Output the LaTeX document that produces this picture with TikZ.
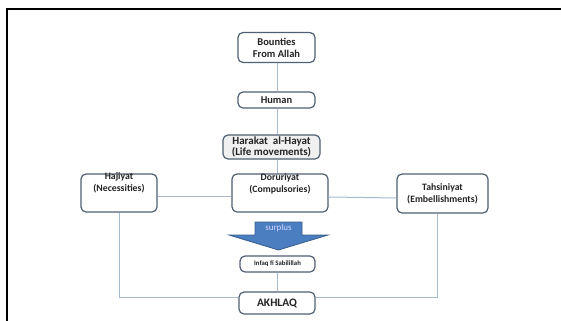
\documentclass[tikz,border=0pt]{standalone}
\usepackage{fontspec}
\setmainfont{Carlito}
\definecolor{boxline}{RGB}{80,96,114}
\definecolor{conn}{RGB}{165,185,208}
\definecolor{arrowfill}{RGB}{74,126,192}
\definecolor{arrowline}{RGB}{56,93,138}
\definecolor{txtc}{RGB}{35,35,35}
\tikzset{
  box/.style={draw=boxline, line width=1.2bp, rounded corners=5bp, fill=white, inner sep=0pt},
  txt/.style={font=\bfseries\fontsize{10.5}{11.5}\selectfont, text=txtc, align=center, inner sep=0pt},
  conline/.style={draw=conn, line width=1bp}
}
\begin{document}
\begin{tikzpicture}[x=1bp,y=-1bp]
\useasboundingbox (0,0) rectangle (561,320);
% frame
\draw[line width=2bp] (7,321) -- (7,9) -- (562,9);
% boxes
\node[box, minimum width=77bp, minimum height=30bp] (bounties) at (276.5,47.5) {};
\node[box, minimum width=77bp, minimum height=16bp] (human) at (276.5,100) {};
\node[box, minimum width=97bp, minimum height=24bp, fill=gray!12] (harakat) at (271.5,147) {};
\node[box, minimum width=96bp, minimum height=38bp] (doruriyat) at (280,193) {};
\node[box, minimum width=76bp, minimum height=38bp] (hajiyat) at (119,193) {};
\node[box, minimum width=91bp, minimum height=39bp] (tahsiniyat) at (442.5,193.5) {};
\node[box, minimum width=75bp, minimum height=16bp] (infaq) at (277.5,264) {};
\node[box, minimum width=76bp, minimum height=22bp] (akhlaq) at (277,303) {};
% connectors
\coordinate (cx) at (277,0);
\coordinate (botline) at (0,297);
\coordinate (tcol) at (437,0);
\draw[conline] (bounties.south -| cx) -- (human.north -| cx);
\draw[conline] (human.south -| cx) -- (harakat.north -| cx);
\draw[conline] (harakat.south -| cx) -- (doruriyat.north -| cx);
\draw[conline] ([yshift=-4pt]hajiyat.east) -- ([yshift=-4pt]doruriyat.west);
\draw[conline] ([yshift=-4pt]doruriyat.east) -- ([yshift=-4.5pt]tahsiniyat.west);
\draw[conline] (infaq.south -| cx) -- (akhlaq.north -| cx);
\draw[conline] (hajiyat.south) -- (hajiyat.south |- botline) -- (akhlaq.west |- botline);
\draw[conline] (tahsiniyat.south -| tcol) -- (tcol |- botline) -- (akhlaq.east |- botline);
% texts
\node[txt] (tb) at (276.5,48) {Bounties\\From Allah};
\node[txt] (th) at (276.5,100.5) {Human};
\node[txt, font=\bfseries\fontsize{11}{12}\selectfont] (thr) at (271.5,147) {Harakat\ \ al-Hayat\\(Life movements)};
\node[txt, font=\bfseries\fontsize{9.8}{12.5}\selectfont] (tdr) at (280,184) {Doruriyat\\(Compulsories)};
\node[txt, font=\bfseries\fontsize{9.8}{12}\selectfont] (thj) at (119,182.5) {Hajiyat\\(Necessities)};
\node[txt, font=\bfseries\fontsize{9.8}{12.5}\selectfont] (tts) at (442.5,194) {Tahsiniyat\\(Embellishments)};
\node[txt, font=\bfseries\fontsize{6.8}{8}\selectfont] (tin) at (277.5,264) {Infaq fi Sabilillah};
\node[txt, font=\bfseries\fontsize{11.5}{13}\selectfont] (tak) at (277,303.5) {AKHLAQ};
% arrow
\draw[fill=arrowfill, draw=arrowline, line width=0.8bp, line join=miter]
  (255,222) -- (302,222) -- (302,235) -- (328,235) -- (278.5,250) -- (229,235) -- (255,235) -- cycle;
\node[font=\fontsize{9}{10}\selectfont, text=white!85!blue, inner sep=0pt] (tsp) at (278.5,228.5) {surplus};
\end{tikzpicture}
\end{document}
